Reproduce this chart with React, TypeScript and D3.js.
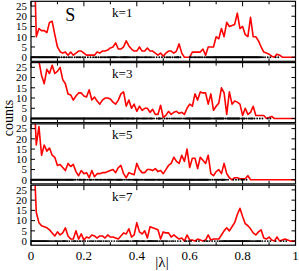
import React from "react";
import * as d3 from "d3";

// histogram counts at |λ| = 0.01 ... 1.00
const countsK1 = [
  60, 10, 14, 13, 13, 12, 17, 17.5, 11, 5,
  2.7, 2, 2.5, 1, 2.5, 1, 2, 3, 3, 2,
  1, 1, 1, 1, 2.5, 2, 3, 3, 3.5, 4.5,
  5, 7, 4, 4, 5, 8, 5.5, 4, 3, 3,
  5, 3, 3, 4.5, 3, 3, 2, 1, 2, 0.5,
  2, 3, 3, 2, 3, 6.5, 2, 0, 0, 0,
  2.5, 2.5, 2.5, 2.5, 4, 1, 5, 5, 5, 10,
  9, 14, 10, 17, 15, 15.5, 16, 21.5, 14, 15,
  11, 10, 19.5, 10, 10, 8, 5, 2.5, 2, 1.5,
  0.5, 0, 1.5, 1, 0, 0, 0, 0, 0, 0,
];
const countsK3 = [
  60, 60, 28, 21, 17, 24, 22, 26, 22, 23,
  25, 19, 17, 12, 11.5, 9, 11, 12.5, 12.5, 11,
  10.5, 14, 9, 10.5, 8.5, 7, 9, 10, 10, 9.5,
  8, 7, 9, 12, 13, 6, 9, 5, 7, 3.5,
  6, 4, 5, 5, 3, 4.5, 2, 2, 6.5, 0.5,
  1.5, 3.5, 2, 3, 3.5, 2.5, 3, 2, 5, 7,
  6, 12, 9, 13, 12.5, 12.5, 7, 12, 4, 6,
  7.5, 15, 12.5, 2, 13, 7, 8.5, 8, 7, 1.5,
  5, 2, 3, 6, 1.5, 1.5, 1.5, 1.5, 0, 0.5,
  1, 0, 0, 0, 0, 0, 0, 0, 0, 0,
];
const countsK5 = [
  45, 17, 26, 12, 17, 14, 15.5, 12, 11, 7,
  7.5, 6, 4.5, 8, 6.5, 7.5, 4, 2, 4.5, 3,
  3.5, 1, 4.5, 1.5, 3, 3, 3.5, 3.5, 4, 4.5,
  5, 3.5, 6, 7, 3, 1, 3.5, 3, 2.5, 8,
  5, 3.5, 3.5, 5, 5, 4.5, 5.5, 4, 4.5, 3,
  5, 7, 8, 11, 9, 8, 12, 9, 15, 6,
  10.5, 10.5, 5.5, 11, 9.5, 8, 12, 3, 2, 4,
  5, 3, 8, 3, 1, 0, 1, 1, 0.5, 0.5,
  0.5, 2, 0, 0, 0, 0, 0, 0, 0, 0,
  0, 0, 0, 0, 0, 0, 0, 0, 0, 0,
];
const countsK7 = [
  45, 14, 9, 7.5, 7, 6.5, 5.5, 4, 2.5, 4.5,
  3, 4, 6.5, 2.5, 1, 1, 5, 1, 3.5, 0.5,
  2, 1.5, 3, 2.5, 1.5, 2.5, 2.5, 1.5, 3, 2,
  2, 1.5, 1, 2.5, 4, 3.5, 6, 2, 3, 9,
  4.5, 3.5, 5, 1.5, 7, 6.5, 6, 5.5, 1, 4.5,
  4, 4, 2, 3, 2, 1, 1.5, 0, 3, 0.5,
  0.5, 0, 1, 0.5, 0, 0.5, 3, 0.5, 1, 1,
  1, 3, 5, 6.5, 5, 7, 9, 13, 16, 12,
  8.5, 7.5, 6, 4, 3, 4.5, 5.5, 1.5, 1, 2,
  0.5, 0, 2, 0, 0.5, 1, 0.5, 0, 0, 0,
];

const series = [countsK1, countsK3, countsK5, countsK7];
const panelLabels = ["k=1", "k=3", "k=5", "k=7"];
const xTickLabels = [0, 0.2, 0.4, 0.6, 0.8, 1];
const yTickLabels = [0, 5, 10, 15, 20, 25];

const width = 299;
const height = 271;
const left = 31;
const right = 295.5;
const firstTop = 1.3;
const panelStep = 61.3;
const panelH = 60;
const font = "'Liberation Serif', 'Times New Roman', serif";

const x = d3.scaleLinear().domain([0, 1]).range([left, right]);
const binW = 0.01;

export default function App() {
  return (
    <svg width={width} height={height} style={{ position: "absolute", left: 0, top: 0 }}>
      <rect width={width} height={height} fill="white" />
      {series.map((counts, k) => {
        const top = firstTop + k * panelStep;
        const y = d3.scaleLinear().domain([-2, 27.3]).range([top + panelH, top]);
        const line = d3
          .line<number>()
          .x((_, i) => x((i + 1) * binW))
          .y((v) => y(v));
        // rug: dots spread over each non-empty bin
        const dots: number[] = [];
        counts.forEach((v, i) => {
          const n = Math.min(Math.ceil(v / 2), 4);
          for (let j = 0; j < n; j++) dots.push(i * binW + ((j + 0.5) / n) * binW);
        });
        const clipId = `clip${k}`;
        const labelClip = `lclip${k}`;
        return (
          <g key={k}>
            <clipPath id={clipId}>
              <rect x={left} y={top} width={right - left} height={panelH} />
            </clipPath>
            <clipPath id={labelClip}>
              <rect x={0} y={top + 0.6} width={left} height={panelH + 2} />
            </clipPath>
            <g clipPath={`url(#${clipId})`}>
              <path d={line(counts) || ""} fill="none" stroke="#ff0000" strokeWidth={1.6} strokeLinejoin="round" />
              {dots.map((d, i) => (
                <circle key={i} cx={x(d)} cy={y(0)} r={0.95} fill="black" />
              ))}
            </g>
            <rect x={left} y={top} width={right - left} height={panelH} fill="none" stroke="black" strokeWidth={1.2} />
            {d3.range(0, 1.001, 0.1).map((t, i) => {
              const len = i % 2 === 0 ? 5 : 3;
              return (
                <g key={i}>
                  <line x1={x(t)} x2={x(t)} y1={top} y2={top + len} stroke="black" strokeWidth={1} />
                  <line x1={x(t)} x2={x(t)} y1={top + panelH} y2={top + panelH - len} stroke="black" strokeWidth={1} />
                </g>
              );
            })}
            {yTickLabels.map((t) => (
              <g key={t}>
                <line x1={left} x2={left + 4} y1={y(t)} y2={y(t)} stroke="black" strokeWidth={1} />
                <line x1={right} x2={right - 4} y1={y(t)} y2={y(t)} stroke="black" strokeWidth={1} />
              </g>
            ))}
            <g clipPath={`url(#${labelClip})`}>
              {yTickLabels.map((t) => (
                <text key={t} x={27} y={y(t)} dy="0.35em" textAnchor="end" fontFamily={font} fontSize={11}>
                  {t}
                </text>
              ))}
            </g>
            <text x={x(0.345)} y={top + 15.5} textAnchor="middle" fontFamily={font} fontSize={13}>
              {panelLabels[k]}
            </text>
            {k === 0 && (
              <text x={x(0.148)} y={top + 20} textAnchor="middle" fontFamily={font} fontSize={18}>
                S
              </text>
            )}
          </g>
        );
      })}
      {xTickLabels.map((t) => (
        <text key={t} x={x(t)} y={260} textAnchor="middle" fontFamily={font} fontSize={13}>
          {t}
        </text>
      ))}
      <text x={162} y={267} textAnchor="middle" fontFamily={font} fontSize={15}>
        |λ|
      </text>
      <text
        transform="translate(13,118) rotate(-90)"
        textAnchor="middle"
        fontFamily={font}
        fontSize={14}
      >
        counts
      </text>
    </svg>
  );
}
